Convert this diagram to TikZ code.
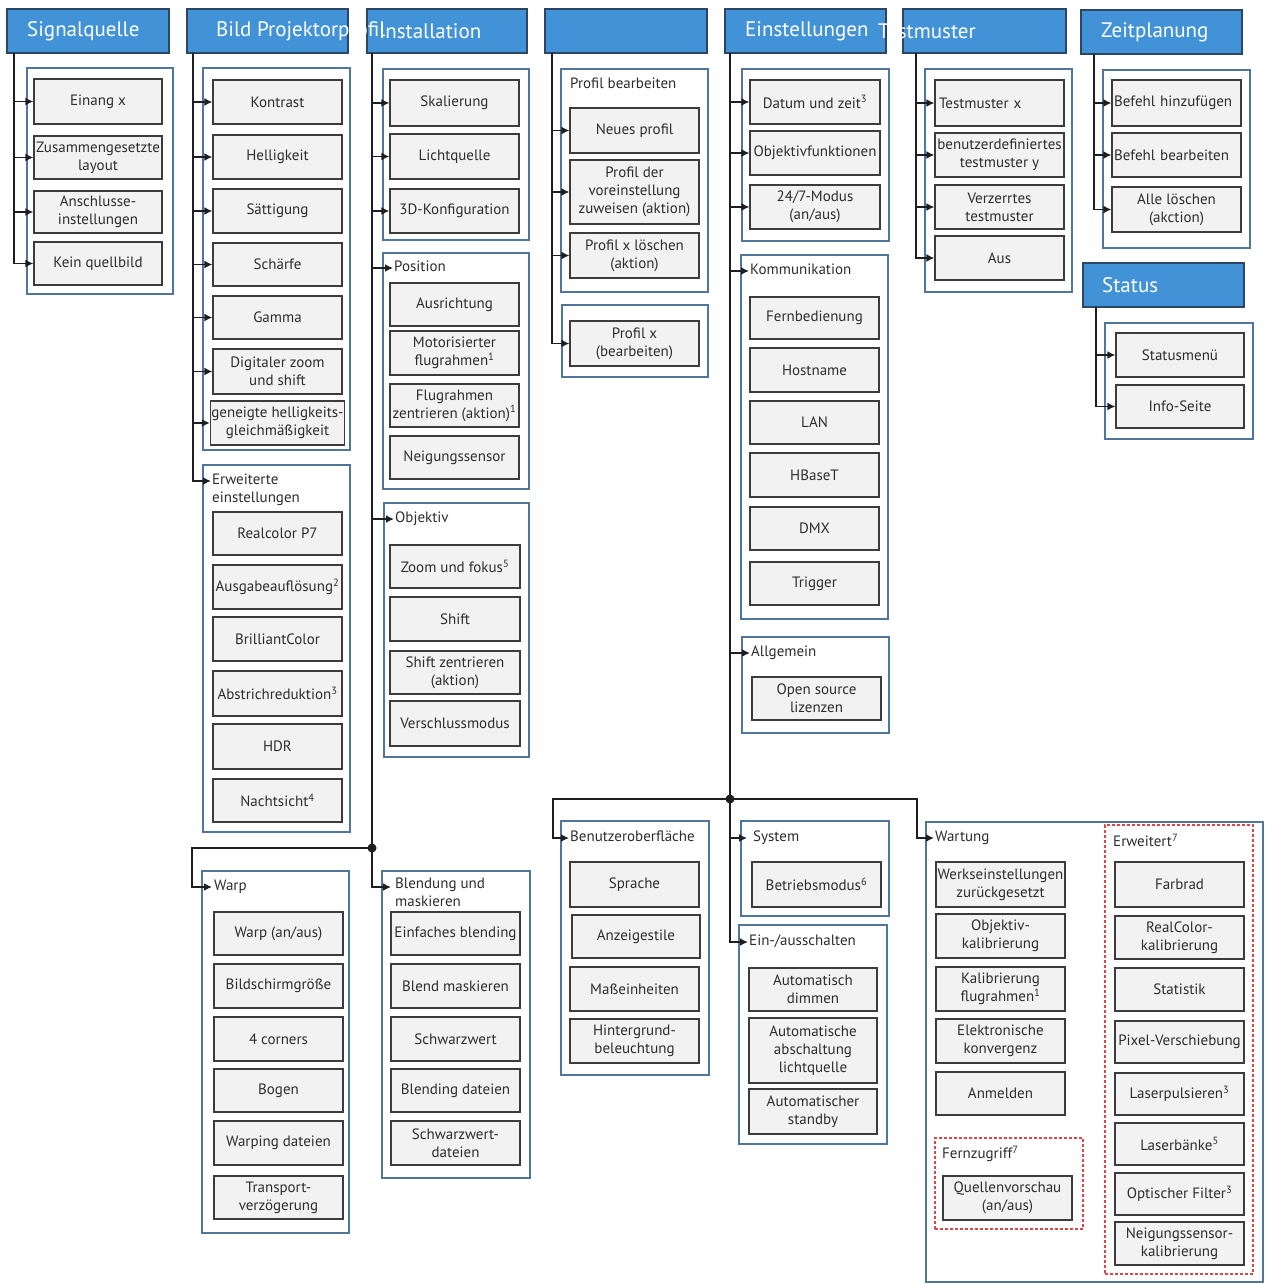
\documentclass[tikz,border=0pt]{standalone}
\usepackage{fontspec}
\setmainfont{PT Sans}
\usetikzlibrary{arrows.meta}
\definecolor{hdrF}{RGB}{66,146,216}
\definecolor{hdrB}{RGB}{44,70,100}
\definecolor{contB}{RGB}{80,118,158}
\definecolor{itemB}{RGB}{60,60,60}
\definecolor{itemF}{RGB}{242,242,242}
\definecolor{lineC}{RGB}{30,30,35}
\definecolor{redC}{RGB}{220,70,70}
\definecolor{txtC}{RGB}{45,45,45}
\newcommand\ifnt{\fontsize{15}{18}\selectfont}
\newcommand\hfnt{\fontsize{21}{25}\selectfont}
\newcommand\bx[8][]{\node[#2, minimum width={#6-#4}, minimum height={#7-#5}, #1] (#3) at ({(#4+#6)/2},{(#5+#7)/2}) {#8};}
\newcommand\supn[1]{\textsuperscript{#1}}
\tikzset{
  hdr/.style={draw=hdrB, fill=hdrF, line width=1.5pt, inner sep=0pt},
  cont/.style={draw=contB, line width=1.6pt, fill=white, inner sep=0pt},
  item/.style={draw=itemB, fill=itemF, line width=1.2pt, align=center, font=\ifnt, text=txtC, inner sep=1pt},
  reddash/.style={draw=redC, line width=1.3pt, dash pattern=on 3pt off 2pt, inner sep=0pt},
  lbl/.style={anchor=north west, font=\ifnt, text=txtC, align=left, inner sep=0pt},
  htext/.style={anchor=west, font=\hfnt, text=white, inner sep=0pt},
  arr/.style={draw=lineC, line width=1.8pt, -{Latex[length=8pt,width=8pt]}},
  trunk/.style={draw=lineC, line width=1.8pt},
}
\begin{document}
\begin{tikzpicture}[x=1pt,y=-1pt]
\useasboundingbox (0,0) rectangle (1268,1284);
\fill[white] (0,0) rectangle (1268,1284);
% ---------- containers ----------
\bx{cont}{cSig}{27}{68}{173}{294}{}
\bx{cont}{cBild}{203}{68}{350}{450}{}
\bx{cont}{cErw}{203}{465}{350}{832}{}
\bx{cont}{cInst}{383}{69}{529}{240}{}
\bx{cont}{cPos}{383}{253}{529}{489}{}
\bx{cont}{cObj}{384}{503}{529}{757}{}
\bx{cont}{cWarp}{202}{871}{349}{1233}{}
\bx{cont}{cBlend}{382}{871}{530}{1178}{}
\bx{cont}{cProf}{561}{69}{708}{292}{}
\bx{cont}{cProf2}{562}{305}{708}{377}{}
\bx{cont}{cEin}{742}{69}{889}{241}{}
\bx{cont}{cKom}{741}{255}{888}{619}{}
\bx{cont}{cAllg}{742}{637}{889}{733}{}
\bx{cont}{cBen}{561}{821}{709}{1075}{}
\bx{cont}{cSys}{741}{821}{889}{916}{}
\bx{cont}{cPow}{739}{925}{887}{1144}{}
\bx{cont}{cWart}{926}{822}{1263}{1282}{}
\bx{cont}{cTest}{925}{69}{1072}{292}{}
\bx{cont}{cZeit}{1103}{70}{1250}{248}{}
\bx{cont}{cStat}{1105}{323}{1253}{439}{}
\bx{reddash}{cFern}{935}{1138}{1083}{1229}{}
\bx{reddash}{cErwt}{1105}{825}{1253}{1274}{}
% ---------- labels ----------
\node[lbl] (lErw) at (212,474) {Erweiterte\\einstellungen};
\node[lbl] (lPos) at (394,261) {Position};
\node[lbl] (lObj) at (395,512) {Objektiv};
\node[lbl] (lWarp) at (214,880) {Warp};
\node[lbl] (lBlend) at (395,878) {Blendung und\\maskieren};
\node[lbl] (lProf) at (570,78) {Profil bearbeiten};
\node[lbl] (lKom) at (750,264) {Kommunikation};
\node[lbl] (lAllg) at (751,646) {Allgemein};
\node[lbl] (lBen) at (570,831) {Benutzeroberfläche};
\node[lbl] (lSys) at (753,831) {System};
\node[lbl] (lPow) at (749,935) {Ein-/ausschalten};
\node[lbl] (lWart) at (935,831) {Wartung};
\node[lbl] (lFern) at (942,1146) {Fernzugriff\supn{7}};
\node[lbl] (lErwt) at (1113,834) {Erweitert\supn{7}};
% ---------- items ----------
\bx{item}{s1}{34}{79}{162}{124}{Einang x}
\bx{item}{s2}{34}{136}{162}{179}{Zusammengesetzte\\layout}
\bx{item}{s3}{34}{191}{162}{233}{Anschlusse-\\instellungen}
\bx{item}{s4}{34}{242}{162}{285}{Kein quellbild}
\bx{item}{b1}{213}{80}{342}{124}{Kontrast}
\bx{item}{b2}{213}{135}{342}{179}{Helligkeit}
\bx{item}{b3}{213}{189}{342}{233}{Sättigung}
\bx{item}{b4}{213}{243}{342}{286}{Schärfe}
\bx{item}{b5}{213}{296}{342}{339}{Gamma}
\bx{item}{b6}{213}{349}{342}{394}{Digitaler zoom\\und shift}
\bx{item}{b7}{213}{401}{342}{445}{geneigte helligkeits-\\gleichmäßigkeit}
\bx{item}{r1}{213}{512}{342}{555}{Realcolor P7}
\bx{item}{r2}{213}{565}{342}{609}{Ausgabeauflösung\supn{2}}
\bx{item}{r3}{213}{617}{342}{661}{BrilliantColor}
\bx{item}{r4}{213}{671}{342}{716}{Abstrichreduktion\supn{3}}
\bx{item}{r5}{213}{724}{342}{769}{HDR}
\bx{item}{r6}{213}{779}{342}{822}{Nachtsicht\supn{4}}
\bx{item}{i1}{390}{80}{519}{126}{Skalierung}
\bx{item}{i2}{390}{134}{519}{179}{Lichtquelle}
\bx{item}{i3}{390}{189}{519}{233}{3D-Konfiguration}
\bx{item}{p1}{390}{283}{519}{326}{Ausrichtung}
\bx{item}{p2}{390}{331}{519}{375}{Motorisierter\\flugrahmen\supn{1}}
\bx{item}{p3}{390}{384}{519}{427}{Flugrahmen\\zentrieren (aktion)\supn{1}}
\bx{item}{p4}{390}{436}{519}{479}{Neigungssensor}
\bx{item}{o1}{390}{545}{520}{588}{Zoom und fokus\supn{5}}
\bx{item}{o2}{390}{597}{520}{641}{Shift}
\bx{item}{o3}{390}{651}{520}{694}{Shift zentrieren\\(aktion)}
\bx{item}{o4}{390}{701}{520}{746}{Verschlussmodus}
\bx{item}{w1}{214}{912}{343}{955}{Warp (an/aus)}
\bx{item}{w2}{214}{964}{343}{1008}{Bildschirmgröße}
\bx{item}{w3}{214}{1017}{343}{1061}{4 corners}
\bx{item}{w4}{214}{1069}{343}{1112}{Bogen}
\bx{item}{w5}{214}{1121}{343}{1165}{Warping dateien}
\bx{item}{w6}{214}{1176}{343}{1219}{Transport-\\verzögerung}
\bx{item}{bl1}{391}{912}{520}{955}{Einfaches blending}
\bx{item}{bl2}{391}{964}{520}{1008}{Blend maskieren}
\bx{item}{bl3}{391}{1017}{520}{1061}{Schwarzwert}
\bx{item}{bl4}{391}{1069}{520}{1112}{Blending dateien}
\bx{item}{bl5}{391}{1121}{520}{1165}{Schwarzwert-\\dateien}
\bx{item}{pr1}{570}{108}{699}{153}{Neues profil}
\bx{item}{pr2}{570}{160}{699}{224}{Profil der\\voreinstellung\\zuweisen (aktion)}
\bx{item}{pr3}{570}{233}{699}{278}{Profil x löschen\\(aktion)}
\bx{item}{pr4}{570}{321}{699}{366}{Profil x\\(bearbeiten)}
\bx{item}{e1}{750}{80}{880}{124}{Datum und zeit\supn{3}}
\bx{item}{e2}{750}{131}{880}{175}{Objektivfunktionen}
\bx{item}{e3}{750}{185}{880}{229}{24/7-Modus\\(an/aus)}
\bx{item}{k1}{750}{297}{879}{339}{Fernbedienung}
\bx{item}{k2}{750}{348}{879}{392}{Hostname}
\bx{item}{k3}{750}{401}{879}{444}{LAN}
\bx{item}{k4}{750}{453}{879}{497}{HBaseT}
\bx{item}{k5}{750}{507}{879}{550}{DMX}
\bx{item}{k6}{750}{562}{879}{605}{Trigger}
\bx{item}{a1}{752}{677}{881}{720}{Open source\\lizenzen}
\bx{item}{u1}{570}{862}{699}{907}{Sprache}
\bx{item}{u2}{572}{915}{700}{958}{Anzeigestile}
\bx{item}{u3}{570}{967}{699}{1011}{Maßeinheiten}
\bx{item}{u4}{570}{1019}{699}{1063}{Hintergrund-\\beleuchtung}
\bx{item}{y1}{752}{862}{881}{907}{Betriebsmodus\supn{6}}
\bx{item}{q1}{749}{968}{877}{1011}{Automatisch\\dimmen}
\bx{item}{q2}{749}{1018}{877}{1083}{Automatische\\abschaltung\\lichtquelle}
\bx{item}{q3}{749}{1089}{877}{1134}{Automatischer\\standby}
\bx{item}{m1}{936}{862}{1065}{907}{Werkseinstellungen\\zurückgesetzt}
\bx{item}{m2}{936}{914}{1065}{958}{Objektiv-\\kalibrierung}
\bx{item}{m3}{936}{967}{1065}{1011}{Kalibrierung\\flugrahmen\supn{1}}
\bx{item}{m4}{936}{1019}{1065}{1063}{Elektronische\\konvergenz}
\bx{item}{m5}{936}{1072}{1065}{1115}{Anmelden}
\bx{item}{f1}{943}{1176}{1072}{1220}{Quellenvorschau\\(an/aus)}
\bx{item}{x1}{1115}{862}{1244}{907}{Farbrad}
\bx{item}{x2}{1115}{916}{1244}{959}{RealColor-\\kalibrierung}
\bx{item}{x3}{1115}{968}{1244}{1011}{Statistik}
\bx{item}{x4}{1115}{1021}{1244}{1063}{Pixel-Verschiebung}
\bx{item}{x5}{1115}{1073}{1244}{1115}{Laserpulsieren\supn{3}}
\bx{item}{x6}{1115}{1123}{1244}{1165}{Laserbänke\supn{5}}
\bx{item}{x7}{1115}{1173}{1244}{1215}{Optischer Filter\supn{3}}
\bx{item}{x8}{1115}{1222}{1244}{1265}{Neigungssensor-\\kalibrierung}
\bx[align=left, text width=121pt, inner xsep=4pt]{item}{t1}{935}{80}{1064}{126}{Testmuster x}
\bx{item}{t2}{935}{133}{1064}{177}{benutzerdefiniertes\\testmuster y}
\bx{item}{t3}{935}{185}{1064}{229}{Verzerrtes\\testmuster}
\bx{item}{t4}{935}{236}{1064}{280}{Aus}
\bx[align=left, text width=125pt, inner xsep=2pt]{item}{z1}{1112}{80}{1241}{126}{Befehl hinzufügen}
\bx[align=left, text width=125pt, inner xsep=2pt]{item}{z2}{1112}{133}{1241}{177}{Befehl bearbeiten}
\bx{item}{z3}{1112}{187}{1241}{232}{Alle löschen\\(akction)}
\bx{item}{st1}{1116}{333}{1244}{377}{Statusmenü}
\bx{item}{st2}{1116}{385}{1244}{428}{Info-Seite}
% ---------- headers ----------
\bx{hdr}{hSig}{7}{9}{169}{53}{}
\bx{hdr}{hBild}{187}{9}{348}{53}{}
\bx{hdr}{hInst}{367}{9}{527}{53}{}
\bx{hdr}{hBlank}{545}{9}{707}{53}{}
\bx{hdr}{hEin}{725}{9}{886}{53}{}
\bx{hdr}{hTest}{903}{9}{1066}{53}{}
\bx{hdr}{hZeit}{1081}{10}{1242}{54}{}
\bx{hdr}{hStat}{1083}{263}{1244}{307}{}
\node[htext] (tSig) at (27,31) {Signalquelle};
\node[htext] (tBild) at (216,31) {Bild Projektorprofil};
\node[htext] (tInst) at (379,31) {Installation};
\node[htext] (tEin) at (745,31) {Einstellungen};
\node[htext] (tTest) at (878,31) {Testmuster};
\node[htext] (tZeit) at (1101,32) {Zeitplanung};
\node[htext] (tStat) at (1102,285) {Status};
% ---------- trunk coordinates ----------
\coordinate (T1) at (14,53);
\coordinate (T2) at (193,53);
\coordinate (T3) at (372,53);
\coordinate (T4) at (552,53);
\coordinate (T5) at (730,53);
\coordinate (T6) at (916,53);
\coordinate (T7) at (1094,54);
\coordinate (TS) at (1096,307);
\coordinate (dotA) at (372,848);
\coordinate (dotB) at (730,799);
\coordinate (kWarp) at (192,848);
\coordinate (kBen) at (553,799);
\coordinate (kWart) at (917,799);
\coordinate (aErw) at (211,481);
\coordinate (aPos) at (393,268);
\coordinate (aObj) at (394,519);
\coordinate (aWarp) at (212,887);
\coordinate (aBlend) at (391,887);
\coordinate (aKom) at (749,271);
\coordinate (aAllg) at (750,653);
\coordinate (aBen) at (569,838);
\coordinate (aSys) at (747,838);
\coordinate (aPow) at (748,942);
\coordinate (aWart) at (934,838);
% ---------- connectors ----------
\foreach \n in {s1,s2,s3,s4} \draw[arr] (T1) |- (\n.west);
\foreach \n in {b1,b2,b3,b4,b5,b6,b7} \draw[arr] (T2) |- (\n.west);
\draw[arr] (T2) |- (aErw);
\foreach \n in {i1,i2,i3} \draw[arr] (T3) |- (\n.west);
\draw[arr] (T3) |- (aPos);
\draw[arr] (T3) |- (aObj);
\draw[trunk] (T3) -- (dotA);
\draw[arr] (dotA) -- (kWarp) |- (aWarp);
\draw[arr] (dotA) |- (aBlend);
\foreach \n in {pr1,pr2,pr3,pr4} \draw[arr] (T4) |- (\n.west);
\foreach \n in {e1,e2,e3} \draw[arr] (T5) |- (\n.west);
\draw[arr] (T5) |- (aKom);
\draw[arr] (T5) |- (aAllg);
\draw[trunk] (T5) -- (dotB);
\draw[arr] (dotB) -- (kBen) |- (aBen);
\draw[arr] (dotB) |- (aSys);
\draw[arr] (dotB) |- (aPow);
\draw[arr] (dotB) -- (kWart) |- (aWart);
\foreach \n in {t1,t2,t3,t4} \draw[arr] (T6) |- (\n.west);
\foreach \n in {z1,z2,z3} \draw[arr] (T7) |- (\n.west);
\foreach \n in {st1,st2} \draw[arr] (TS) |- (\n.west);
\fill[lineC] (dotA) circle (4.5);
\fill[lineC] (dotB) circle (4.5);
\end{tikzpicture}
\end{document}
